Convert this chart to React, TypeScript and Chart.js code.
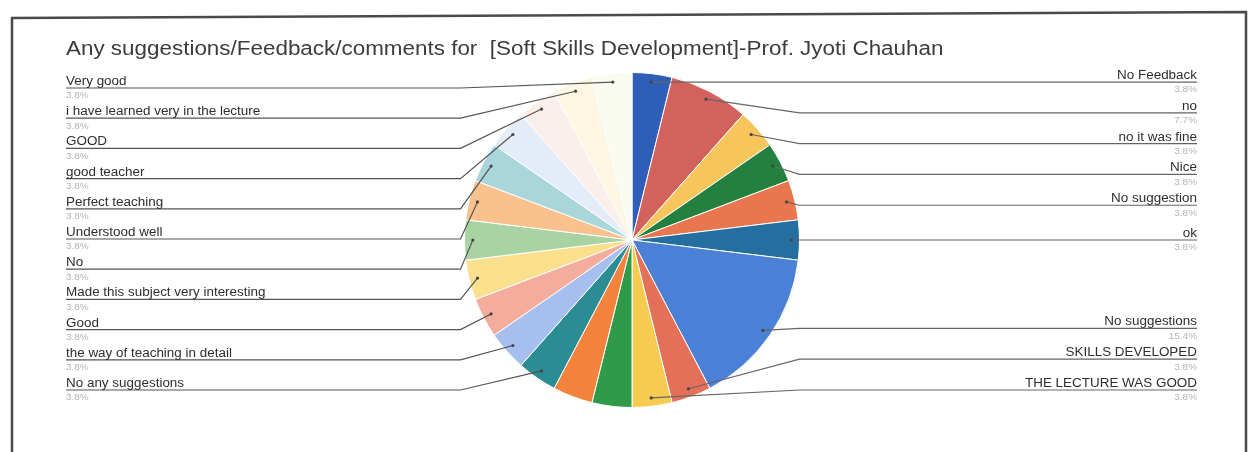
import React, { useEffect, useRef } from "react";
import { Chart, registerables } from "chart.js";

Chart.register(...registerables);

const TITLE =
  "Any suggestions/Feedback/comments for  [Soft Skills Development]-Prof. Jyoti Chauhan";

// Slices clockwise from 12 o'clock ("" = slice whose label is not shown)
const responseLabels = [
  "No Feedback",
  "no",
  "no it was fine",
  "Nice",
  "No suggestion",
  "ok",
  "No suggestions",
  "SKILLS DEVELOPED",
  "THE LECTURE WAS GOOD",
  "",
  "",
  "No any suggestions",
  "the way of teaching in detail",
  "Good",
  "Made this subject very interesting",
  "No",
  "Understood well",
  "Perfect teaching",
  "good teacher",
  "GOOD",
  "i have learned very in the lecture",
  "Very good",
];

const responseCounts = [1, 2, 1, 1, 1, 1, 4, 1, 1, 1, 1, 1, 1, 1, 1, 1, 1, 1, 1, 1, 1, 1];

const sliceColors = [
  "#2F5EB9",
  "#D3615C",
  "#F6C65C",
  "#23803F",
  "#E8764F",
  "#246FA0",
  "#4A80D6",
  "#E4705A",
  "#F7CB4F",
  "#2F9A48",
  "#F2823C",
  "#2C8C93",
  "#A7BFEF",
  "#F4AC9D",
  "#FADF8D",
  "#AAD3A3",
  "#F9C18D",
  "#A9D6DA",
  "#E3ECF7",
  "#FBEFEB",
  "#FDF6E2",
  "#F9FAF0",
];

const FONT = "'Liberation Sans', Arial, sans-serif";

function wideText(ctx: any, text: string, x: number, y: number, align: string, sx: number) {
  ctx.save();
  ctx.translate(x, y);
  ctx.scale(sx, 1);
  ctx.textAlign = align;
  ctx.fillText(text, 0, 0);
  ctx.restore();
}

const leaderPlugin = {
  id: "leaderLabels",
  beforeDraw(chart: any) {
    const ctx = chart.ctx;
    ctx.save();
    ctx.fillStyle = "#ffffff";
    ctx.fillRect(0, 0, chart.width, chart.height);
    ctx.restore();
  },
  afterDraw(chart: any) {
    const ctx = chart.ctx;
    const meta = chart.getDatasetMeta(0);
    const data = chart.data.datasets[0].data as number[];
    const labels = chart.data.labels as string[];
    const total = data.reduce((a, b) => a + b, 0);

    ctx.save();
    // frame
    ctx.strokeStyle = "#4a4a4a";
    ctx.lineWidth = 2.5;
    ctx.beginPath();
    ctx.moveTo(12, 452);
    ctx.lineTo(12, 18);
    ctx.lineTo(1246, 12);
    ctx.lineTo(1246, 452);
    ctx.stroke();

    // title
    ctx.fillStyle = "#3c3c3c";
    ctx.font = `19.5px ${FONT}`;
    ctx.textBaseline = "alphabetic";
    wideText(ctx, TITLE, 66, 55, "left", 1.15);

    type Item = { i: number; px: number; py: number; want: number; y: number };
    const left: Item[] = [];
    const right: Item[] = [];
    let cx = 0;
    let R = 0;
    meta.data.forEach((arc: any, i: number) => {
      if (!labels[i]) return;
      const p = arc.getProps(["x", "y", "startAngle", "endAngle", "outerRadius"], true);
      cx = p.x;
      R = p.outerRadius;
      const mid = (p.startAngle + p.endAngle) / 2;
      const px = p.x + Math.cos(mid) * R * 0.95;
      const py = p.y + Math.sin(mid) * R * 0.95;
      const it = { i, px, py, want: py, y: py };
      if (Math.cos(mid) >= 0) right.push(it);
      else left.push(it);
    });

    const layout = (items: Item[], top: number, bottom: number, gap: number) => {
      items.sort((a, b) => a.want - b.want);
      for (let k = 0; k < items.length; k++) {
        const prev = k === 0 ? top - gap : items[k - 1].y;
        items[k].y = Math.max(items[k].want, prev + gap, top);
      }
      for (let k = items.length - 1; k >= 0; k--) {
        const next = k === items.length - 1 ? bottom + gap : items[k + 1].y;
        items[k].y = Math.min(items[k].y, next - gap, bottom);
      }
    };
    layout(left, 88, 390, 30.2);
    layout(right, 82, 390, 30.8);

    const drawSide = (items: Item[], isLeft: boolean) => {
      const elbowX = isLeft ? cx - R - 4 : cx + R;
      const textX = isLeft ? 66 : 1197;
      items.forEach((it) => {
        ctx.strokeStyle = isLeft ? "#555555" : "#666666";
        ctx.lineWidth = 1.2;
        ctx.beginPath();
        ctx.moveTo(it.px, it.py);
        ctx.lineTo(elbowX, it.y);
        ctx.lineTo(textX, it.y);
        ctx.stroke();
        ctx.fillStyle = "#444444";
        ctx.beginPath();
        ctx.arc(it.px, it.py, 1.6, 0, Math.PI * 2);
        ctx.fill();

        const align = isLeft ? "left" : "right";
        ctx.fillStyle = "#2e2e2e";
        ctx.font = `12px ${FONT}`;
        ctx.textBaseline = "alphabetic";
        wideText(ctx, labels[it.i], textX, it.y - 3, align, 1.12);
        ctx.fillStyle = "#b4b4b4";
        ctx.font = `9.5px ${FONT}`;
        ctx.textBaseline = "top";
        const pct = ((data[it.i] / total) * 100).toFixed(1) + "%";
        wideText(ctx, pct, textX, it.y + 3, align, 1.05);
      });
    };
    drawSide(left, true);
    drawSide(right, false);
    ctx.restore();
  },
};

export default function App() {
  const canvasRef = useRef<HTMLCanvasElement | null>(null);

  useEffect(() => {
    if (!canvasRef.current) return;
    const chart = new Chart(canvasRef.current, {
      type: "pie",
      data: {
        labels: responseLabels,
        datasets: [
          {
            data: responseCounts,
            backgroundColor: sliceColors,
            borderColor: "#ffffff",
            borderWidth: 1,
          },
        ],
      },
      options: {
        responsive: false,
        animation: false,
        devicePixelRatio: 1,
        layout: { padding: { left: 464, right: 458, top: 72, bottom: 44 } },
        plugins: {
          legend: { display: false },
          tooltip: { enabled: false },
          title: { display: false },
        },
      },
      plugins: [leaderPlugin],
    });
    return () => chart.destroy();
  }, []);

  return (
    <div style={{ position: "absolute", left: 0, top: 0, width: 1258, height: 452 }}>
      <canvas ref={canvasRef} width={1258} height={452} />
    </div>
  );
}
